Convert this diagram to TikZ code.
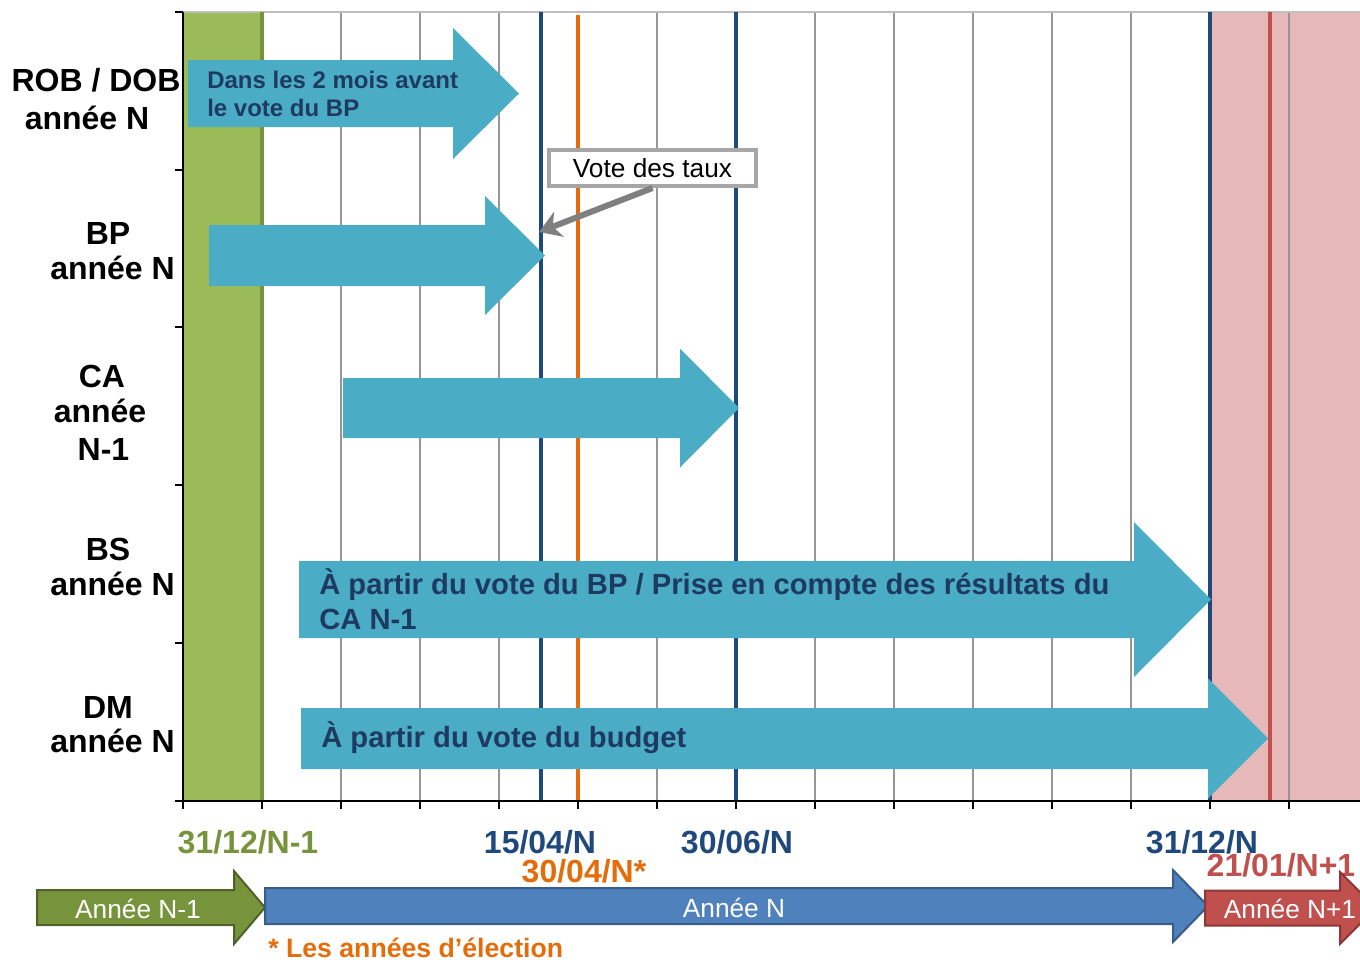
\documentclass[tikz,border=0pt]{standalone}
\usepackage{fontspec}
\setmainfont{Liberation Sans}
\usetikzlibrary{arrows.meta}
\definecolor{arrteal}{HTML}{4BACC6}
\definecolor{arrtext}{HTML}{1F3A60}
\definecolor{bandgreen}{HTML}{9BBB59}
\definecolor{darkgreen}{HTML}{77933C}
\definecolor{bordgreen}{HTML}{4F6228}
\definecolor{bandpink}{HTML}{E6B9B8}
\definecolor{lineblue}{HTML}{1F497D}
\definecolor{lineorange}{HTML}{E46C0A}
\definecolor{linered}{HTML}{C0504D}
\definecolor{bordred}{HTML}{8C3836}
\definecolor{gridgray}{HTML}{969696}
\definecolor{topgray}{HTML}{BFBFBF}
\definecolor{boxgray}{HTML}{A6A6A6}
\definecolor{pointgray}{HTML}{7F7F7F}
\definecolor{yearblue}{HTML}{4F81BD}
\definecolor{bordblue}{HTML}{385D8A}
\newcommand\fsz[2]{\fontsize{#1}{#2}\selectfont}
% block arrow: [style] x1 x2(head start) xtip yc halfbody halfhead
\newcommand\barrow[7][]{%
  \path[#1] (#2,{#5-#6}) -- (#3,{#5-#6}) -- (#3,{#5-#7}) -- (#4,#5)
    -- (#3,{#5+#7}) -- (#3,{#5+#6}) -- (#2,{#5+#6}) -- cycle;}
\tikzset{
  grid line/.style={draw=gridgray, line width=1.5pt},
  axis line/.style={draw=black, line width=2.2pt},
  tick line/.style={draw=black, line width=1.5pt},
  teal arrow/.style={fill=arrteal},
  lab/.style={font=\bfseries\fsz{24}{26.5}, inner sep=0pt, anchor=base},
  intext/.style={text=arrtext, inner sep=0pt, anchor=base west},
  smalltext/.style={intext, font=\bfseries\fsz{18}{21}},
  bigtext/.style={intext, font=\bfseries\fsz{21.9}{26}},
  datelab/.style={font=\bfseries\fsz{24}{26}, inner sep=0pt, anchor=base},
  vbox/.style={draw=boxgray, line width=3pt, fill=white, minimum width=155pt,
    minimum height=27pt, inner sep=0pt, font=\fsz{19.7}{22}},
  pointer/.style={draw=pointgray, line width=4.5pt,
    -{Stealth[length=16pt,width=20pt,inset=5pt]}},
  yeartext/.style={text=white, font=\fsz{19.7}{22}, inner sep=0pt, anchor=base},
}
\begin{document}
\begin{tikzpicture}[x=0.75pt, y=-0.75pt]
\useasboundingbox (0,0) rectangle (1360,961);
\clip (0,0) rectangle (1360,961);
% bands
\fill[bandpink] (1210,12) rectangle (1360,801);
\fill[bandgreen] (183,12) rectangle (262,801);
% grid
\foreach \gx in {341,420,499,657,815,894,973,1052,1131,1289}
  \draw[grid line] (\gx,12) -- (\gx,801);
\draw[topgray, line width=1.5pt] (183,12) -- (1360,12);
\draw[darkgreen, line width=3pt] (262,12) -- (262,801);
\draw[lineblue, line width=2.5pt] (541,12) -- (541,801);
\draw[lineblue, line width=2.5pt] (736,12) -- (736,801);
\draw[lineblue, line width=2.5pt] (1210,12) -- (1210,801);
\draw[lineorange, line width=3pt] (578,15) -- (578,801);
\draw[linered, line width=3pt] (1270,12) -- (1270,801);
% axes
\foreach \ty in {12,170,327,485,643,801}
  \draw[tick line] (175,\ty) -- (183,\ty);
\foreach \k in {0,...,14}
  \draw[tick line] ({183+79*\k},801) -- ({183+79*\k},809);
\draw[axis line] (183,12) -- (183,801);
\draw[axis line] (175,801) -- (1360,801);
% teal arrows
\barrow[teal arrow]{188}{453}{519}{93.5}{33.5}{65.5}
\barrow[teal arrow]{209}{485}{545}{255.5}{30.5}{59.5}
\barrow[teal arrow]{343}{680}{739}{408}{30}{59.5}
\barrow[teal arrow]{299}{1134}{1211}{599.5}{38.5}{77.5}
\barrow[teal arrow]{301}{1208}{1268}{738.5}{30.5}{60}
% arrow texts
\node[smalltext] (rob1) at (207,88.5) {Dans les 2 mois avant};
\node[smalltext] (rob2) at (207,116.5) {le vote du BP};
\node[bigtext] (bs1) at (319,594) {À partir du vote du BP / Prise en compte des résultats du};
\node[bigtext] (bs2) at (319,629) {CA N-1};
\node[bigtext] (dm1) at (321,747) {À partir du vote du budget};
% left labels
\node[lab] (lrob1) at (96,91.5) {ROB / DOB};
\node[lab] (lrob2) at (87,129.5) {année N};
\node[lab] (lbp1) at (108,244.5) {BP};
\node[lab] (lbp2) at (112.5,279.5) {année N};
\node[lab] (lca1) at (102,387.5) {CA};
\node[lab] (lca2) at (100,422.5) {année};
\node[lab] (lca3) at (103.5,460.5) {N-1};
\node[lab] (lbs1) at (108,560.5) {BS};
\node[lab] (lbs2) at (112.5,595.5) {année N};
\node[lab] (ldm1) at (108,718.5) {DM};
\node[lab] (ldm2) at (112.5,752.5) {année N};
% vote des taux
\node[vbox] (vt) at (652.5,168) {Vote des taux};
\coordinate (vtgt) at (539,232);
\draw[pointer] (vt.south) -- (vtgt);
% dates
\node[datelab, text=darkgreen] (d1) at (248,853.5) {31/12/N-1};
\node[datelab, text=lineblue] (d2) at (540,853.5) {15/04/N};
\node[datelab, text=lineorange] (d3) at (584,882.5) {30/04/N*};
\node[datelab, text=lineblue] (d4) at (737,853.5) {30/06/N};
\node[datelab, text=lineblue] (d5) at (1202,853.5) {31/12/N};
\node[datelab, text=linered] (d6) at (1281,876.5) {21/01/N+1};
% year arrows
\barrow[fill=darkgreen, draw=bordgreen, line width=1.5pt]{37}{234}{265}{907.5}{17.5}{36.5}
\barrow[fill=yearblue, draw=bordblue, line width=1.5pt]{265}{1173}{1208}{906}{18}{36}
\barrow[fill=linered, draw=bordred, line width=1.5pt]{1205}{1340}{1376}{908}{17.5}{36}
\node[yeartext] (y1) at (138,918) {Année N-1};
\node[yeartext] (y2) at (734,917) {Année N};
\node[yeartext] (y3) at (1290,918) {Année N+1};
% footnote
\node[font=\bfseries\fsz{20}{22}, text=lineorange, inner sep=0pt, anchor=base west] (foot) at (268,957) {* Les années d’élection};
\end{tikzpicture}
\end{document}
